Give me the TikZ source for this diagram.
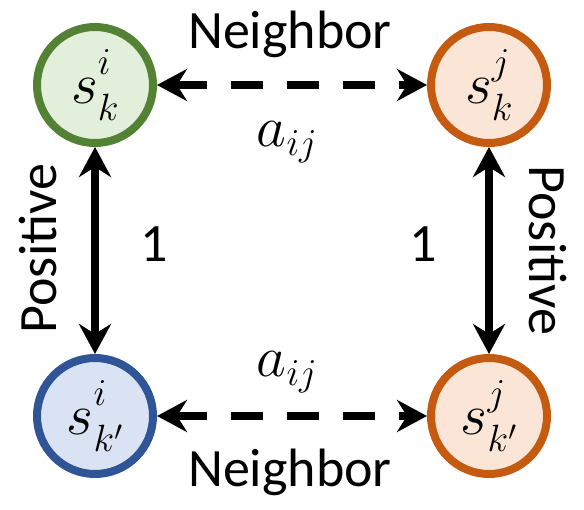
\RequirePackage{fix-cm}
\documentclass[tikz,border=0pt]{standalone}
\usepackage{fontspec}
\setmainfont{Carlito}
\DeclareMathSizes{54}{58}{38}{28}
\usetikzlibrary{arrows.meta}
\definecolor{gborder}{HTML}{548235}
\definecolor{gfill}{HTML}{E2EFDA}
\definecolor{oborder}{HTML}{C55A11}
\definecolor{ofill}{HTML}{FBE5D6}
\definecolor{bborder}{HTML}{2F5597}
\definecolor{bfill}{HTML}{DAE3F3}
\newcommand{\stv}[2]{${s\mathstrut}^{#1}_{#2}$}
\begin{document}
\begin{tikzpicture}[x=1pt,y=1pt,
  state/.style={circle, draw, line width=8pt, minimum size=116pt, inner sep=0pt, font=\fontsize{54}{60}\selectfont},
  link/.style={line width=8pt, {Stealth[length=30pt,width=32pt,inset=10pt]}-{Stealth[length=30pt,width=32pt,inset=10pt]}},
  neigh/.style={link, dash pattern=on 32pt off 24pt},
  lbl/.style={font=\fontsize{54}{60}\selectfont, inner sep=0pt}]
\useasboundingbox (0,0) rectangle (584,509);
\node[state, draw=gborder, fill=gfill] (tl) at (95,424) {\stv{i}{k}};
\node[state, draw=oborder, fill=ofill] (tr) at (489,424) {\stv{j}{k}};
\node[state, draw=bborder, fill=bfill] (bl) at (95,93) {\stv{i}{k'}};
\node[state, draw=oborder, fill=ofill] (br) at (489,93) {\stv{j}{k'}};
\draw[neigh] (tl) -- (tr);
\draw[neigh] (bl) -- (br);
\draw[link] (tl) -- (bl);
\draw[link] (tr) -- (br);
\node[lbl, anchor=base] (n1) at (290,460) {Neighbor};
\node[lbl, anchor=base] (n2) at (290,22) {Neighbor};
\node[lbl, anchor=base] (a1) at (287,362) {$a_{ij}$};
\node[lbl, anchor=base] (a2) at (287,132) {$a_{ij}$};
\node[lbl, anchor=base] (o1) at (154,247) {1};
\node[lbl, anchor=base] (o2) at (423,247) {1};
\node[lbl, anchor=base, rotate=90] (p1) at (57,260.5) {Positive};
\node[lbl, anchor=base, rotate=-90] (p2) at (529,258.5) {Positive};
\end{tikzpicture}
\end{document}
